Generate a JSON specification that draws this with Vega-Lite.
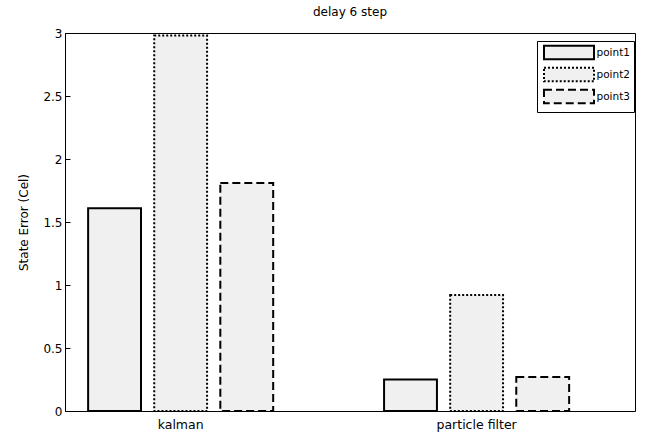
{
  "$schema": "https://vega.github.io/schema/vega-lite/v6.json",
  "width": 570,
  "height": 378,
  "autosize": {"type": "none"},
  "padding": {"left": 65, "top": 33, "right": 13, "bottom": 25},
  "background": "white",
  "title": {"text": "delay 6 step", "fontSize": 12, "font": "DejaVu Sans", "fontWeight": "normal", "color": "black", "offset": 8},
  "config": {
    "view": {"stroke": "black", "strokeWidth": 1},
    "font": "DejaVu Sans"
  },
  "data": {
    "values": [
      {"method": "kalman", "series": "point1", "error": 1.61},
      {"method": "kalman", "series": "point2", "error": 2.98},
      {"method": "kalman", "series": "point3", "error": 1.81},
      {"method": "particle filter", "series": "point1", "error": 0.25},
      {"method": "particle filter", "series": "point2", "error": 0.92},
      {"method": "particle filter", "series": "point3", "error": 0.27}
    ]
  },
  "mark": {"type": "bar", "fill": "#f0f0f0", "stroke": "black", "strokeWidth": 2},
  "encoding": {
    "x": {
      "field": "method", "type": "nominal", "sort": null,
      "scale": {"paddingInner": 0.33, "paddingOuter": 0.128, "align": 0.218},
      "axis": {"title": null, "labelAngle": 0, "ticks": false, "domain": false, "labelFontSize": 12.5, "labelColor": "black", "labelPadding": 7}
    },
    "xOffset": {"field": "series", "type": "nominal", "scale": {"paddingInner": 0.2, "paddingOuter": 0.1}},
    "y": {
      "field": "error", "type": "quantitative",
      "scale": {"domain": [0, 3], "nice": false, "zero": true},
      "axis": {"title": "State Error (Cel)", "values": [0, 0.5, 1, 1.5, 2, 2.5, 3], "format": "~g", "grid": false, "tickSize": -5, "tickColor": "black", "domainColor": "black", "labelFontSize": 12, "labelColor": "black", "labelPadding": 8, "titleFontSize": 12, "titleFontWeight": "normal", "titleColor": "black", "titlePadding": 12}
    },
    "strokeDash": {
      "field": "series", "type": "nominal",
      "scale": {"domain": ["point1", "point2", "point3"], "range": [[1, 0], [2, 2], [8, 4]]},
      "legend": {
        "title": null, "orient": "none", "legendX": 472, "legendY": 8,
        "strokeColor": "black", "fillColor": "white", "padding": 4,
        "symbolType": "M-3.85,-1.05H3.85V1.05H-3.85Z", "symbolSize": 169,
        "symbolOffset": 20.5,
        "symbolStrokeWidth": 2,
        "labelFontSize": 10.5, "labelColor": "black", "rowPadding": -1, "labelOffset": 20,
        "encode": {"symbols": {"stroke": {"value": "black"}, "strokeWidth": {"value": 2}, "fill": {"value": "#f0f0f0"}, "opacity": {"value": 1}}}
      }
    }
  }
}
